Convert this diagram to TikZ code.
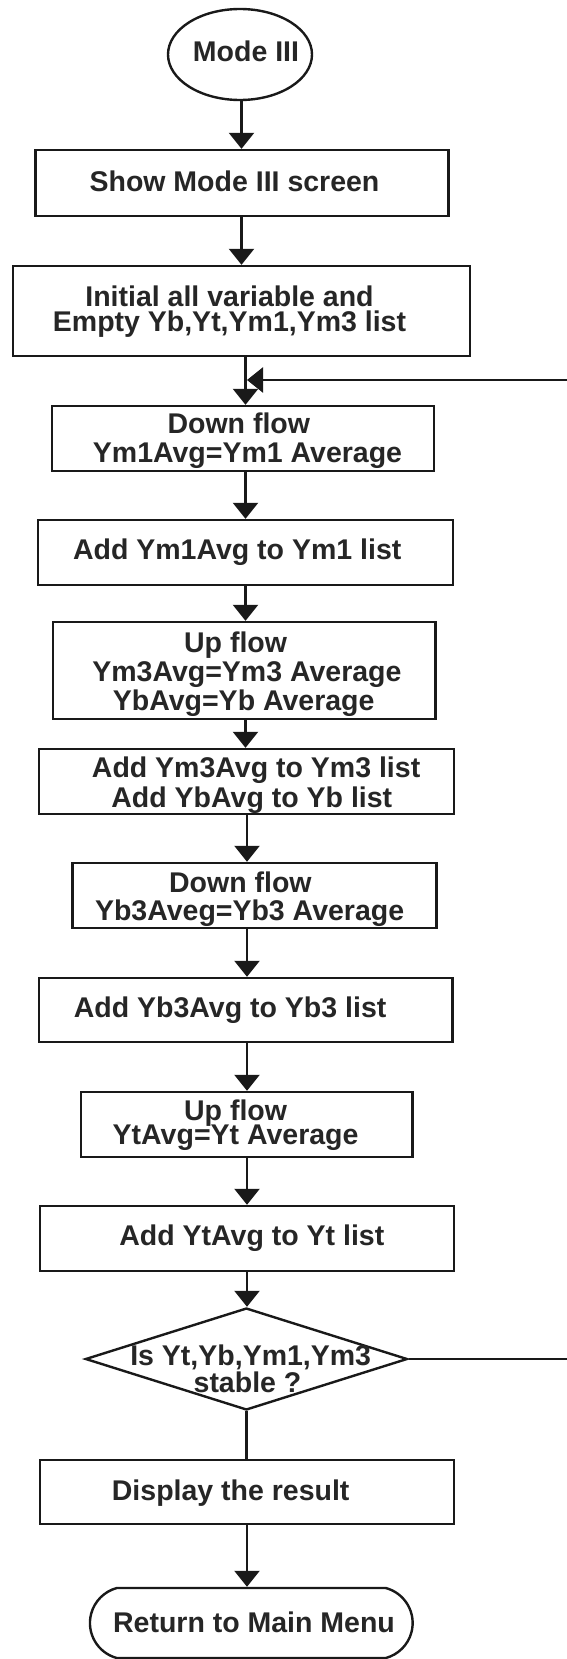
\documentclass[tikz,border=0pt]{standalone}
\usepackage{fontspec}
\setmainfont{Liberation Sans}
\usetikzlibrary{arrows.meta,shapes.geometric,shapes.misc}
\newcommand\shl[2]{\hspace*{#1}\makebox[0pt]{#2}\hspace*{-#1}}
\newcommand\tx[2]{\raisebox{-#1}[0pt][0pt]{\begin{tabular}[t]{@{}c@{}}#2\end{tabular}}}
\tikzset{
  base/.style={draw=black!90, line width=2.4pt, inner sep=0pt, text=black!85,
    font=\fontsize{28.5}{29}\selectfont\bfseries},
  procbox/.style={base, rectangle},
  term/.style={base, ellipse},
  endterm/.style={base, rounded rectangle, rounded rectangle arc length=150},
  decide/.style={base, diamond},
  arr/.style={draw=black!90, line width=2.4pt, -{Triangle[width=25pt,length=16pt]}},
  ln/.style={draw=black!90, line width=2.4pt},
}
\begin{document}
\begin{tikzpicture}[x=1pt,y=-1pt]
\fill[white] (0,0) rectangle (566,1659);
\useasboundingbox (0,0) rectangle (566,1659);
\coordinate (sA) at (241.5,0);
\coordinate (sB) at (245.5,0);
\coordinate (sC) at (247,0);
\coordinate (rt) at (590,0);
\coordinate (loopin) at (247,380);

\node[term, minimum width=144pt, minimum height=91pt] (mode) at (240,54.5)
  {\tx{7.5pt}{\shl{6pt}{Mode III}}};
\node[procbox, minimum width=412.7pt, minimum height=66pt] (b1) at (242,183)
  {\tx{8pt}{\shl{-7.5pt}{Show Mode III screen}}};
\node[procbox, minimum width=457pt, minimum height=90pt] (b2) at (241.5,311)
  {\tx{-5pt}{\shl{-12pt}{Initial all variable and}\\[-4pt] \shl{-12pt}{Empty Yb,Yt,Ym1,Ym3 list}}};
\node[procbox, minimum width=382pt, minimum height=65pt] (b3) at (243,438.5)
  {\tx{-5.5pt}{\shl{-4.2pt}{Down flow}\\ \shl{4.5pt}{Ym1Avg=Ym1 Average}}};
\node[procbox, minimum width=414.8pt, minimum height=65pt] (b4) at (245.3,552.5)
  {\tx{6.5pt}{\shl{-8.1pt}{Add Ym1Avg to Ym1 list}}};
\node[procbox, minimum width=382.3pt, minimum height=97pt] (b5) at (244.2,670.5)
  {\tx{-18.5pt}{\shl{-8.6pt}{Up flow}\\ \shl{2.7pt}{Ym3Avg=Ym3 Average}\\ \shl{-0.5pt}{YbAvg=Yb Average}}};
\node[procbox, minimum width=414.8pt, minimum height=65pt] (b6) at (246.4,781.5)
  {\tx{-4.5pt}{\shl{9.7pt}{Add Ym3Avg to Ym3 list}\\[1pt] \shl{5.4pt}{Add YbAvg to Yb list}}};
\node[procbox, minimum width=363.9pt, minimum height=65pt] (b7) at (254.5,895.5)
  {\tx{-3.5pt}{\shl{-14.1pt}{Down flow}\\[-1pt] \shl{-4.9pt}{Yb3Aveg=Yb3 Average}}};
\node[procbox, minimum width=413.7pt, minimum height=64pt] (b8) at (245.8,1010)
  {\tx{7pt}{\shl{-15.7pt}{Add Yb3Avg to Yb3 list}}};
\node[procbox, minimum width=331.4pt, minimum height=65pt] (b9) at (246.9,1124.5)
  {\tx{-4.5pt}{\shl{-11.3pt}{Up flow}\\[-5pt] \shl{-11.3pt}{YtAvg=Yt Average}}};
\node[procbox, minimum width=413.7pt, minimum height=65pt] (b10) at (246.9,1238.5)
  {\tx{6.5pt}{\shl{4.9pt}{Add YtAvg to Yt list}}};
\node[decide, minimum width=322pt, minimum height=102pt] (dec) at (246.4,1359)
  {\tx{6pt}{\shl{4.3pt}{Is Yt,Yb,Ym1,Ym3}\\[-2pt] \shl{1.1pt}{stable ?}}};
\node[procbox, minimum width=413.7pt, minimum height=64pt] (b11) at (246.9,1492)
  {\tx{8pt}{\shl{-16.2pt}{Display the result}}};
\node[endterm, minimum width=322.7pt, minimum height=70pt] (end) at (251.3,1623)
  {\tx{9pt}{\shl{2.7pt}{Return to Main Menu}}};

\draw[arr] (mode.south -| sA) -- (b1.north -| sA);
\draw[arr] (b1.south -| sA) -- (b2.north -| sA);
\draw[arr] (b2.south -| sB) -- (b3.north -| sB);
\draw[arr] (b3.south -| sB) -- (b4.north -| sB);
\draw[arr] (b4.south -| sB) -- (b5.north -| sB);
\draw[arr] (b5.south -| sB) -- (b6.north -| sB);
\draw[arr] (b6.south -| sC) -- (b7.north -| sC);
\draw[arr] (b7.south -| sC) -- (b8.north -| sC);
\draw[arr] (b8.south -| sC) -- (b9.north -| sC);
\draw[arr] (b9.south -| sC) -- (b10.north -| sC);
\draw[arr] (b10.south -| sC) -- (dec.north -| sC);
\draw[ln] (dec.south) -- (b11.north -| dec.south);
\draw[arr] (b11.south -| sC) -- (end.north -| sC);
\draw[arr] (dec.east) -- (dec.east -| rt) -- (rt |- loopin) -- (loopin);
\end{tikzpicture}
\end{document}
